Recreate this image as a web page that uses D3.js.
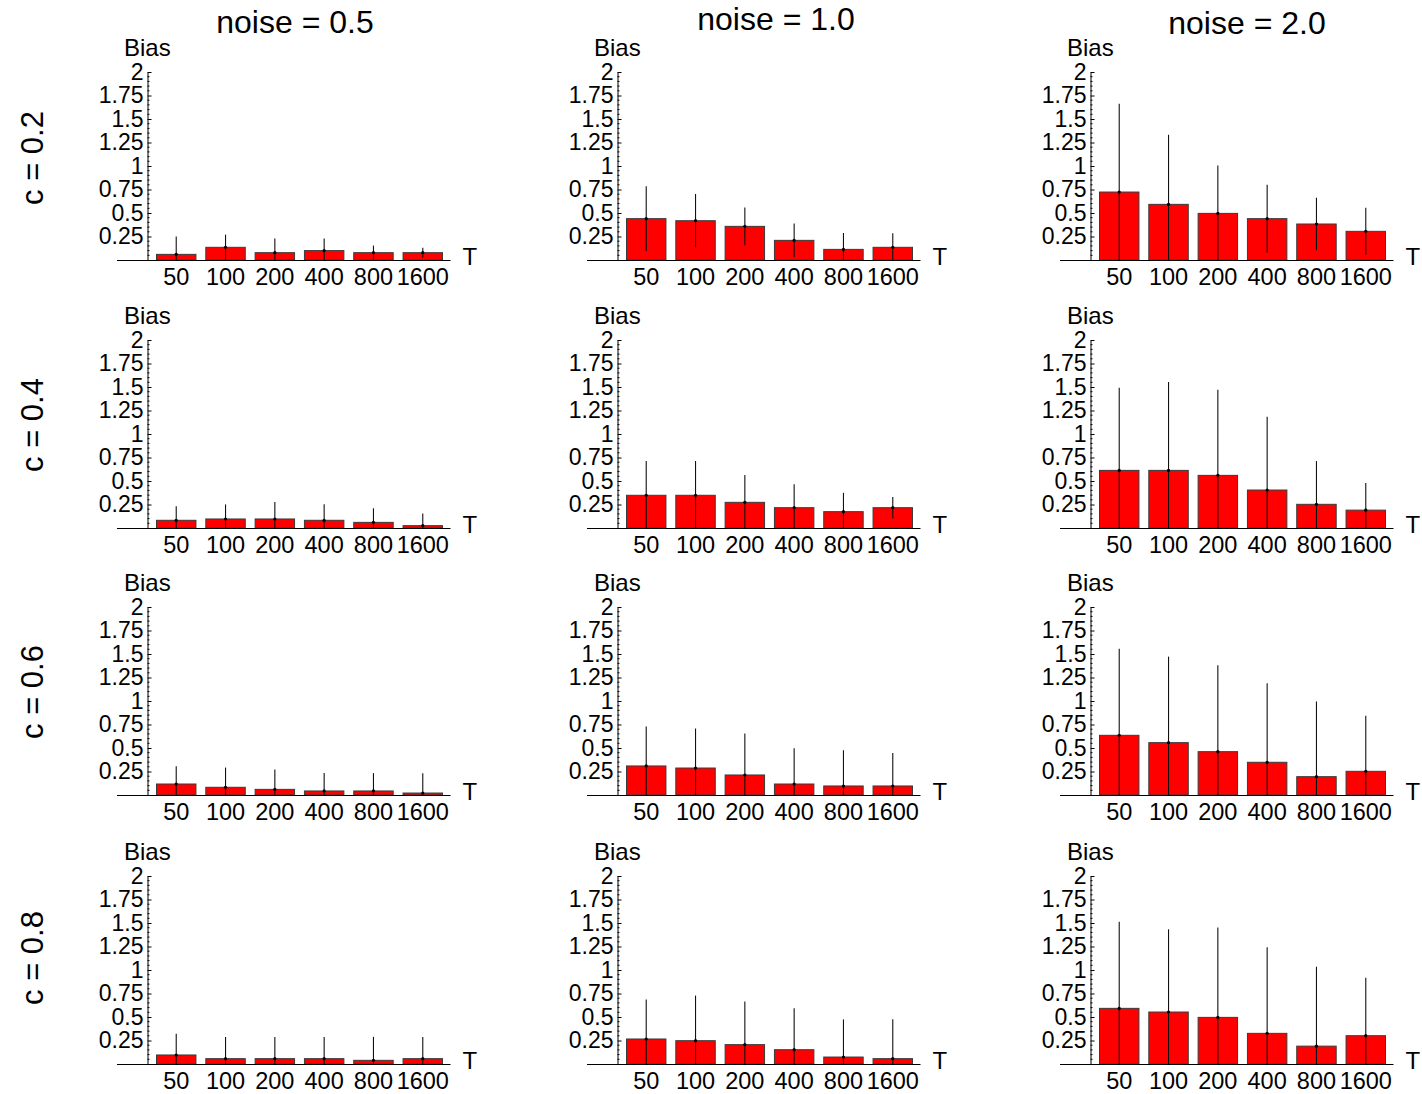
<!DOCTYPE html>
<html><head><meta charset="utf-8">
<script src="https://cdn.jsdelivr.net/npm/d3@7"></script>
<style>
body{margin:0;background:#fff}
svg{display:block}
text{font-family:"Liberation Sans",Arial,Helvetica,sans-serif;fill:#000}
</style></head>
<body>
<svg id="chart" width="1422" height="1094"></svg>
<script>
// ---- data ----
const T = ["50","100","200","400","800","1600"];
const noiseLabels = ["noise = 0.5","noise = 1.0","noise = 2.0"];
const cLabels = ["c = 0.2","c = 0.4","c = 0.6","c = 0.8"];
const yTicks = [0.25,0.5,0.75,1,1.25,1.5,1.75,2];
const yTickLabels = ["0.25","0.5","0.75","1","1.25","1.5","1.75","2"];

// mean bias per noise level (rows of each array: noise 0.5, 1.0, 2.0)
const meanC02 = [[0.06,0.135,0.078,0.10,0.078,0.078],[0.44,0.418,0.358,0.209,0.113,0.135],[0.723,0.592,0.496,0.44,0.383,0.305]];
const errC02  = [[0.19,0.135,0.15,0.13,0.075,0.053],[0.345,0.285,0.2,0.18,0.174,0.15],[0.94,0.74,0.51,0.36,0.28,0.25]];
const meanC04 = [[0.082,0.096,0.096,0.082,0.06,0.025],[0.348,0.348,0.273,0.216,0.174,0.216],[0.613,0.613,0.56,0.404,0.252,0.19]];
const errC04  = [[0.15,0.155,0.18,0.17,0.15,0.13],[0.365,0.365,0.29,0.25,0.2,0.115],[0.88,0.94,0.91,0.78,0.46,0.29]];
const meanC06 = [[0.117,0.082,0.06,0.043,0.043,0.021],[0.309,0.287,0.213,0.117,0.096,0.096],[0.635,0.557,0.461,0.348,0.195,0.252]];
const errC06  = [[0.19,0.21,0.21,0.19,0.19,0.21],[0.42,0.42,0.44,0.38,0.38,0.35],[0.92,0.915,0.92,0.84,0.8,0.59]];
const meanC08 = [[0.096,0.057,0.057,0.057,0.039,0.057],[0.266,0.248,0.206,0.152,0.074,0.057],[0.592,0.553,0.496,0.326,0.19,0.301]];
const errC08  = [[0.227,0.23,0.23,0.23,0.25,0.23],[0.42,0.48,0.46,0.44,0.4,0.42],[0.92,0.88,0.955,0.915,0.845,0.617]];

const means = [meanC02, meanC04, meanC06, meanC08];
const errs  = [errC02, errC04, errC06, errC08];

// ---- layout ----
const colAxisX = [147, 617, 1090];
const rowAxisY = [260, 528, 795, 1064];
const titleX = [295, 776, 1247];
const titleY = [33, 30, 34];
const rowLabelY = [158, 425, 692, 958];
const plotH = 188, barOffset = 9.5, barSpan = 286;
const FS = 23.5, FSY = 23, FSL = 24;

const svg = d3.select("#chart");
svg.append("rect").attr("width",1422).attr("height",1094).attr("fill","#fff");

noiseLabels.forEach((t,i)=>{
  svg.append("text").attr("x",titleX[i]).attr("y",titleY[i])
    .attr("text-anchor","middle").attr("font-size",32).text(t);
});
cLabels.forEach((t,i)=>{
  svg.append("text").attr("transform",`translate(32,${rowLabelY[i]}) rotate(-90)`)
    .attr("text-anchor","middle").attr("dominant-baseline","central")
    .attr("font-size",31).text(t);
});

const minorTicks = d3.range(1,40).map(k=>k*0.05).filter(v=>Math.abs(v/0.25-Math.round(v/0.25))>1e-6);

for(let r=0;r<4;r++){
  for(let c=0;c<3;c++){
    const ax = colAxisX[c], ay = rowAxisY[r];
    const g = svg.append("g");
    const y = d3.scaleLinear().domain([0,2]).range([ay, ay-plotH]).clamp(true);
    const x = d3.scaleBand().domain(T).range([ax+barOffset, ax+barOffset+barSpan]).paddingInner(0.2).paddingOuter(0);
    const vals = means[r][c], er = errs[r][c];
    const data = T.map((t,i)=>({t, v: vals[i], e: er[i]}));

    // bars
    g.selectAll("rect.bar").data(data).join("rect").attr("class","bar")
      .attr("x",d=>x(d.t)).attr("width",x.bandwidth())
      .attr("y",d=>y(d.v)).attr("height",d=>ay-y(d.v))
      .attr("fill","#ff0000").attr("stroke","#3a3a3a").attr("stroke-width",1);

    // error bars
    g.selectAll("line.err").data(data).join("line").attr("class","err")
      .attr("x1",d=>x(d.t)+x.bandwidth()/2).attr("x2",d=>x(d.t)+x.bandwidth()/2)
      .attr("y1",d=>y(d.v-d.e)).attr("y2",d=>y(d.v+d.e))
      .attr("stroke","#111").attr("stroke-width",1.1);
    g.selectAll("circle.pt").data(data).join("circle").attr("class","pt")
      .attr("cx",d=>x(d.t)+x.bandwidth()/2).attr("cy",d=>y(d.v)).attr("r",1.6).attr("fill","#000");

    // x axis line
    g.append("line").attr("x1",ax-30).attr("x2",ax+barOffset+barSpan+8)
      .attr("y1",ay+0.5).attr("y2",ay+0.5).attr("stroke","#000").attr("stroke-width",1.2);
    g.selectAll("text.xt").data(T).join("text").attr("class","xt")
      .attr("x",d=>x(d)+x.bandwidth()/2).attr("y",ay+25)
      .attr("text-anchor","middle").attr("font-size",FS).text(d=>d);
    g.append("text").attr("x",ax+barOffset+barSpan+20).attr("y",ay+5)
      .attr("font-size",FSL).text("T");

    // y axis
    const yAxis = d3.axisLeft(y).tickValues(yTicks).tickFormat((d,i)=>yTickLabels[i])
      .tickSizeInner(-4).tickSizeOuter(0).tickPadding(4);
    const ya = g.append("g").attr("transform",`translate(${ax+0.5},0)`).call(yAxis);
    ya.attr("font-family",null).attr("font-size",null);
    ya.selectAll("text").attr("font-size",FSY);
    ya.select(".domain").attr("stroke","#000").attr("stroke-width",1);
    g.selectAll("line.minor").data(minorTicks).join("line").attr("class","minor")
      .attr("x1",ax+0.5).attr("x2",ax+2.5).attr("y1",d=>y(d)).attr("y2",d=>y(d))
      .attr("stroke","#000").attr("stroke-width",1);
    g.append("text").attr("x",ax-23).attr("y",ay-plotH-16).attr("font-size",FSL).text("Bias");
  }
}
</script>
</body></html>
